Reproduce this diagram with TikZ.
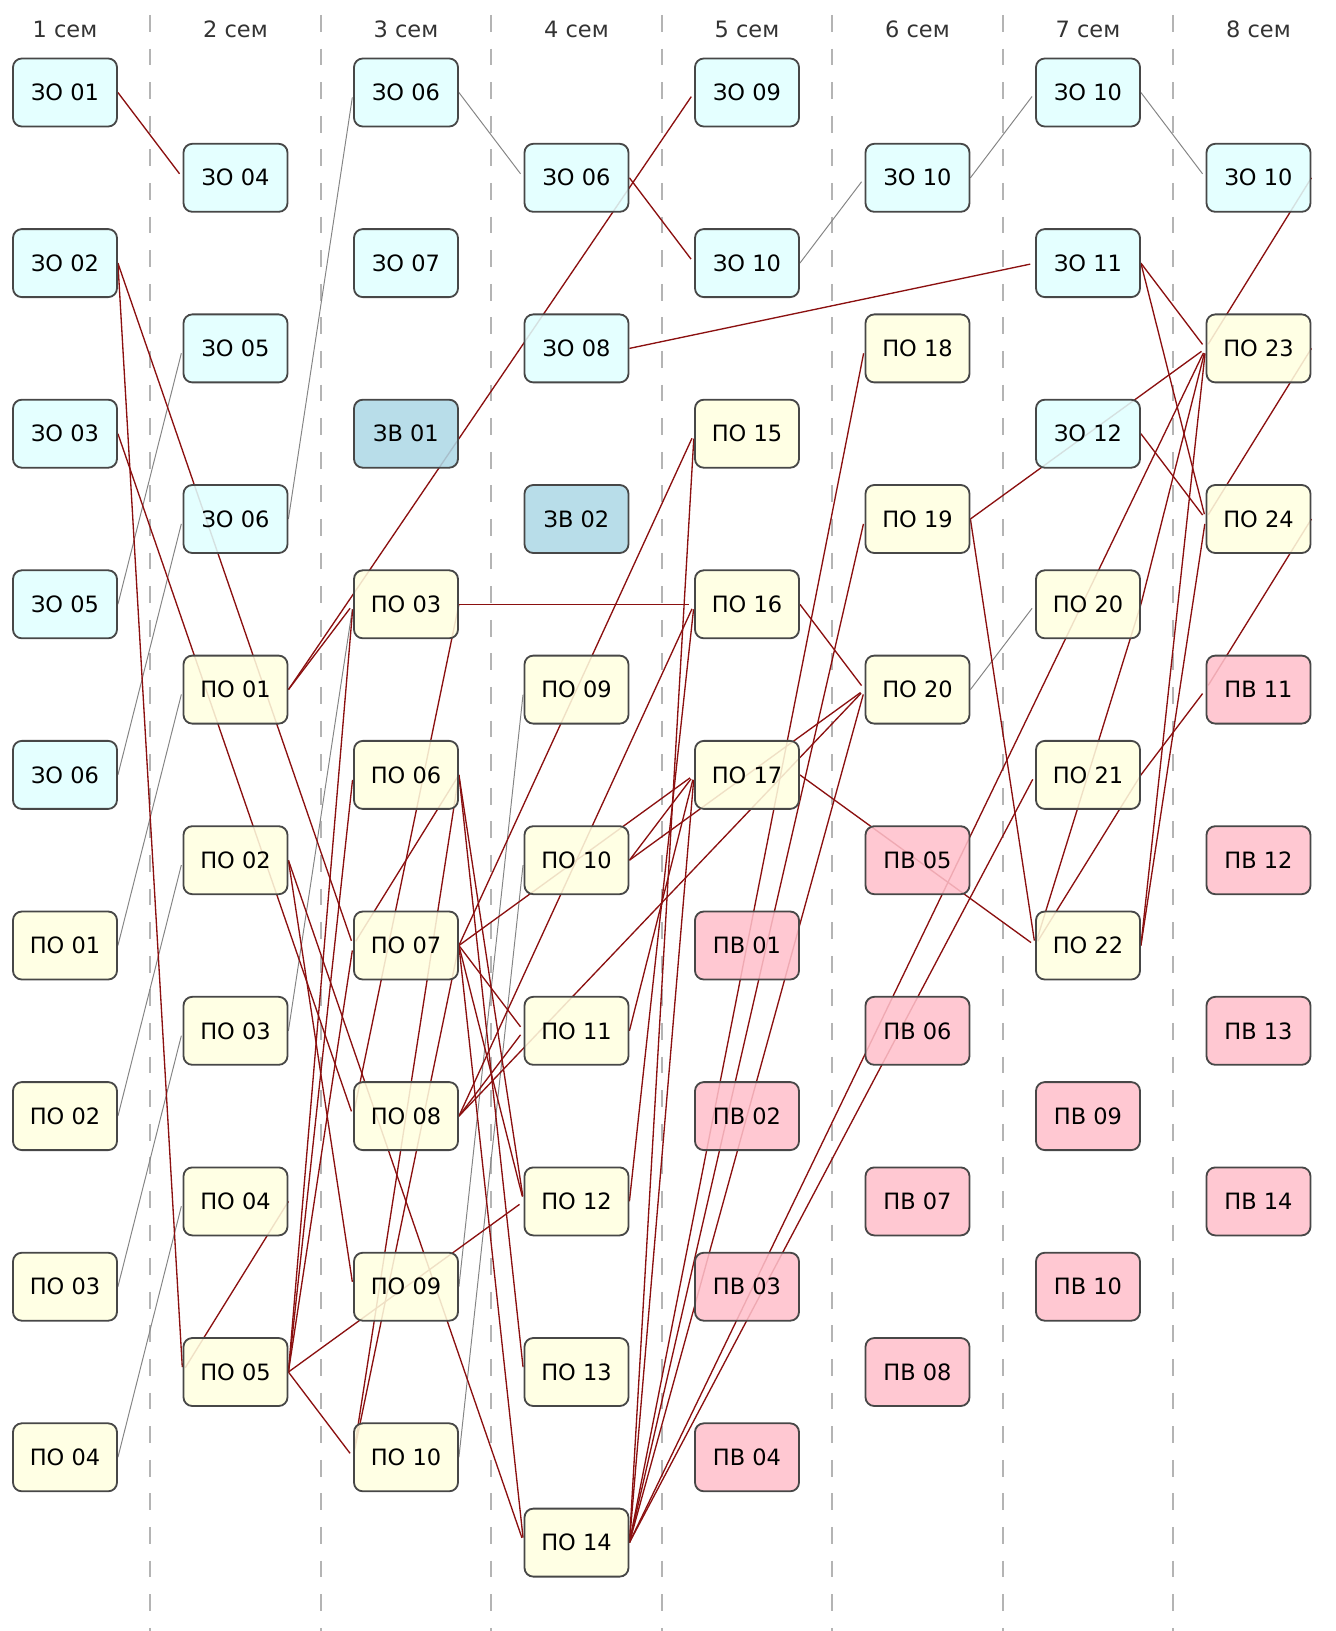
\documentclass[tikz,border=0pt]{standalone}
\usepackage{fontspec}
\setmainfont{DejaVu Sans}
\usepackage{xcolor}
\usepackage{tikz}
\usetikzlibrary{backgrounds}

\definecolor{zofill}{HTML}{E0FFFF}
\definecolor{zvfill}{HTML}{ADD8E6}
\definecolor{pofill}{HTML}{FFFFE0}
\definecolor{pvfill}{HTML}{FFC0CB}
\definecolor{boxline}{HTML}{474747}
\definecolor{linkred}{HTML}{8B1010}
\definecolor{contgrey}{HTML}{858585}
\definecolor{sepgrey}{HTML}{B4B4B4}

\begin{document}
\begin{tikzpicture}[x=4.2625cm,y=-2.1325cm,
  box/.style={draw=boxline,line width=1.3pt,rounded corners=0.22cm,minimum width=2.6cm,minimum height=1.7cm,fill opacity=0.87,text opacity=1,font=\fontsize{16}{19}\selectfont},
  zo/.style={box,fill=zofill},
  zv/.style={box,fill=zvfill},
  po/.style={box,fill=pofill},
  pv/.style={box,fill=pvfill},
  sem/.style={font=\fontsize{16}{19}\selectfont,text=black!80},
  sep/.style={draw=sepgrey,line width=1.4pt,dash pattern=on 0.42cm off 0.42cm},
  link/.style={draw=linkred,line width=0.95pt,shorten >=0.125cm},
  cont/.style={draw=contgrey,line width=0.7pt,shorten >=0.125cm}
]
\useasboundingbox (-0.3812,-1.0844) rectangle (7.4545,18.0363);

% semesters
\node[sem] (sem1) at (0,-0.744) {1 сем};
\node[sem] (sem2) at (1,-0.744) {2 сем};
\node[sem] (sem3) at (2,-0.744) {3 сем};
\node[sem] (sem4) at (3,-0.744) {4 сем};
\node[sem] (sem5) at (4,-0.744) {5 сем};
\node[sem] (sem6) at (5,-0.744) {6 сем};
\node[sem] (sem7) at (6,-0.744) {7 сем};
\node[sem] (sem8) at (7,-0.744) {8 сем};

% 1 sem
\node[zo] (c1zo01) at (0,0) {ЗО 01};
\node[zo] (c1zo02) at (0,2) {ЗО 02};
\node[zo] (c1zo03) at (0,4) {ЗО 03};
\node[zo] (c1zo05) at (0,6) {ЗО 05};
\node[zo] (c1zo06) at (0,8) {ЗО 06};
\node[po] (c1po01) at (0,10) {ПО 01};
\node[po] (c1po02) at (0,12) {ПО 02};
\node[po] (c1po03) at (0,14) {ПО 03};
\node[po] (c1po04) at (0,16) {ПО 04};
% 2 sem
\node[zo] (c2zo04) at (1,1) {ЗО 04};
\node[zo] (c2zo05) at (1,3) {ЗО 05};
\node[zo] (c2zo06) at (1,5) {ЗО 06};
\node[po] (c2po01) at (1,7) {ПО 01};
\node[po] (c2po02) at (1,9) {ПО 02};
\node[po] (c2po03) at (1,11) {ПО 03};
\node[po] (c2po04) at (1,13) {ПО 04};
\node[po] (c2po05) at (1,15) {ПО 05};
% 3 sem
\node[zo] (c3zo06) at (2,0) {ЗО 06};
\node[zo] (c3zo07) at (2,2) {ЗО 07};
\node[zv] (c3zv01) at (2,4) {ЗВ 01};
\node[po] (c3po03) at (2,6) {ПО 03};
\node[po] (c3po06) at (2,8) {ПО 06};
\node[po] (c3po07) at (2,10) {ПО 07};
\node[po] (c3po08) at (2,12) {ПО 08};
\node[po] (c3po09) at (2,14) {ПО 09};
\node[po] (c3po10) at (2,16) {ПО 10};
% 4 sem
\node[zo] (c4zo06) at (3,1) {ЗО 06};
\node[zo] (c4zo08) at (3,3) {ЗО 08};
\node[zv] (c4zv02) at (3,5) {ЗВ 02};
\node[po] (c4po09) at (3,7) {ПО 09};
\node[po] (c4po10) at (3,9) {ПО 10};
\node[po] (c4po11) at (3,11) {ПО 11};
\node[po] (c4po12) at (3,13) {ПО 12};
\node[po] (c4po13) at (3,15) {ПО 13};
\node[po] (c4po14) at (3,17) {ПО 14};
% 5 sem
\node[zo] (c5zo09) at (4,0) {ЗО 09};
\node[zo] (c5zo10) at (4,2) {ЗО 10};
\node[po] (c5po15) at (4,4) {ПО 15};
\node[po] (c5po16) at (4,6) {ПО 16};
\node[po] (c5po17) at (4,8) {ПО 17};
\node[pv] (c5pv01) at (4,10) {ПВ 01};
\node[pv] (c5pv02) at (4,12) {ПВ 02};
\node[pv] (c5pv03) at (4,14) {ПВ 03};
\node[pv] (c5pv04) at (4,16) {ПВ 04};
% 6 sem
\node[zo] (c6zo10) at (5,1) {ЗО 10};
\node[po] (c6po18) at (5,3) {ПО 18};
\node[po] (c6po19) at (5,5) {ПО 19};
\node[po] (c6po20) at (5,7) {ПО 20};
\node[pv] (c6pv05) at (5,9) {ПВ 05};
\node[pv] (c6pv06) at (5,11) {ПВ 06};
\node[pv] (c6pv07) at (5,13) {ПВ 07};
\node[pv] (c6pv08) at (5,15) {ПВ 08};
% 7 sem
\node[zo] (c7zo10) at (6,0) {ЗО 10};
\node[zo] (c7zo11) at (6,2) {ЗО 11};
\node[zo] (c7zo12) at (6,4) {ЗО 12};
\node[po] (c7po20) at (6,6) {ПО 20};
\node[po] (c7po21) at (6,8) {ПО 21};
\node[po] (c7po22) at (6,10) {ПО 22};
\node[pv] (c7pv09) at (6,12) {ПВ 09};
\node[pv] (c7pv10) at (6,14) {ПВ 10};
% 8 sem
\node[zo] (c8zo10) at (7,1) {ЗО 10};
\node[po] (c8po23) at (7,3) {ПО 23};
\node[po] (c8po24) at (7,5) {ПО 24};
\node[pv] (c8pv11) at (7,7) {ПВ 11};
\node[pv] (c8pv12) at (7,9) {ПВ 12};
\node[pv] (c8pv13) at (7,11) {ПВ 13};
\node[pv] (c8pv14) at (7,13) {ПВ 14};

\begin{scope}[on background layer]
\draw[sep] (0.5,-0.909) -- (0.5,18.04);
\draw[sep] (1.5,-0.909) -- (1.5,18.04);
\draw[sep] (2.5,-0.909) -- (2.5,18.04);
\draw[sep] (3.5,-0.909) -- (3.5,18.04);
\draw[sep] (4.5,-0.909) -- (4.5,18.04);
\draw[sep] (5.5,-0.909) -- (5.5,18.04);
\draw[sep] (6.5,-0.909) -- (6.5,18.04);

% same discipline, next semester
\draw[cont] (c1zo05.east) -- (c2zo05.west);
\draw[cont] (c1zo06.east) -- (c2zo06.west);
\draw[cont] (c1po01.east) -- (c2po01.west);
\draw[cont] (c1po02.east) -- (c2po02.west);
\draw[cont] (c1po03.east) -- (c2po03.west);
\draw[cont] (c1po04.east) -- (c2po04.west);
\draw[cont] (c2zo06.east) -- (c3zo06.west);
\draw[cont] (c2po03.east) -- (c3po03.west);
\draw[cont] (c3zo06.east) -- (c4zo06.west);
\draw[cont] (c3po09.east) -- (c4po09.west);
\draw[cont] (c3po10.east) -- (c4po10.west);
\draw[cont] (c5zo10.east) -- (c6zo10.west);
\draw[cont] (c6zo10.east) -- (c7zo10.west);
\draw[cont] (c7zo10.east) -- (c8zo10.west);
\draw[cont] (c6po20.east) -- (c7po20.west);

% prerequisites
\draw[link] (c1zo01.east) -- (c2zo04.west);
\draw[link] (c1zo02.east) -- (c3po07.west);
\draw[link] (c1zo02.east) -- (c2po05.west);
\draw[link] (c1zo03.east) -- (c3po08.west);
\draw[link] (c2po01.east) -- (c3po03.west);
\draw[link] (c2po01.east) -- (c5zo09.west);
\draw[link] (c2po02.east) -- (c3po09.west);
\draw[link] (c2po02.east) -- (c4po14.west);
\draw[link] (c2po04.east) -- (c2po05.west);
\draw[link] (c2po05.east) -- (c3po03.west);
\draw[link] (c2po05.east) -- (c3po06.west);
\draw[link] (c2po05.east) -- (c3po07.west);
\draw[link] (c2po05.east) -- (c3po10.west);
\draw[link] (c2po05.east) -- (c4po12.west);
\draw[link] (c3po03.east) -- (c3po08.west);
\draw[link] (c3po03.east) -- (c5po16.west);
\draw[link] (c3po06.east) -- (c3po07.west);
\draw[link] (c3po06.east) -- (c3po10.west);
\draw[link] (c3po06.east) -- (c4po12.west);
\draw[link] (c3po06.east) -- (c4po13.west);
\draw[link] (c3po07.east) -- (c3po10.west);
\draw[link] (c3po07.east) -- (c4po11.west);
\draw[link] (c3po07.east) -- (c4po12.west);
\draw[link] (c3po07.east) -- (c4po14.west);
\draw[link] (c3po07.east) -- (c5po15.west);
\draw[link] (c3po07.east) -- (c5po17.west);
\draw[link] (c3po08.east) -- (c4po11.west);
\draw[link] (c3po08.east) -- (c5po16.west);
\draw[link] (c3po08.east) -- (c6po20.west);
\draw[link] (c4zo06.east) -- (c5zo10.west);
\draw[link] (c4zo08.east) -- (c7zo11.west);
\draw[link] (c4po10.east) -- (c5po17.west);
\draw[link] (c4po10.east) -- (c6po20.west);
\draw[link] (c4po11.east) -- (c5po17.west);
\draw[link] (c4po12.east) -- (c5po16.west);
\draw[link] (c4po14.east) -- (c5po15.west);
\draw[link] (c4po14.east) -- (c5po17.west);
\draw[link] (c4po14.east) -- (c6po18.west);
\draw[link] (c4po14.east) -- (c6po19.west);
\draw[link] (c4po14.east) -- (c6po20.west);
\draw[link] (c4po14.east) -- (c7po21.west);
\draw[link] (c4po14.east) -- (c8po23.west);
\draw[link] (c5po16.east) -- (c6po20.west);
\draw[link] (c5po17.east) -- (c7po22.west);
\draw[link] (c6po19.east) -- (c7po22.west);
\draw[link] (c6po19.east) -- (c8po23.west);
\draw[link] (c7zo11.east) -- (c8po23.west);
\draw[link] (c7zo11.east) -- (c8po24.west);
\draw[link] (c7zo12.east) -- (c8po24.west);
\draw[link] (c7po20.east) -- (c7po22.west);
\draw[link] (c7po20.east) -- (c8po23.west);
\draw[link] (c7po21.east) -- (c7po22.west);
\draw[link] (c7po21.east) -- (c8pv11.west);
\draw[link] (c7po22.east) -- (c8po23.west);
\draw[link] (c7po22.east) -- (c8po24.west);
\draw[link] (c8zo10.east) -- (c8po23.west);
\draw[link] (c8po23.east) -- (c8po24.west);
\draw[link] (c8po24.east) -- (c8pv11.west);
\end{scope}
\end{tikzpicture}
\end{document}
